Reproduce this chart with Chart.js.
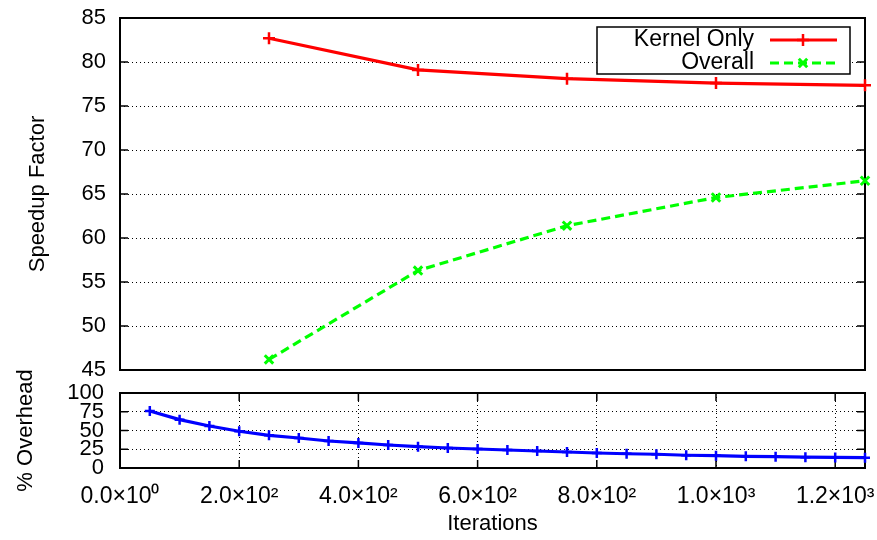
<!DOCTYPE html>
<html>
<head>
<meta charset="utf-8">
<script src="https://cdn.jsdelivr.net/npm/chart.js@4/dist/chart.umd.min.js"></script>
<style>
  html, body { margin: 0; padding: 0; background: #fff; }
  #top, #bottom { position: absolute; left: 0; }
  #top { top: 0; }
  #bottom { top: 355px; }
</style>
</head>
<body>
<canvas id="top" width="877" height="380"></canvas>
<canvas id="bottom" width="877" height="185"></canvas>
<script>
// dados
const iterTop = [250, 500, 750, 1000, 1250];
const kernelOnly = [82.7, 79.1, 78.1, 77.6, 77.35];
const overall = [46.2, 56.3, 61.4, 64.6, 66.5];

const iterBottom = [50, 100, 150, 200, 250, 300, 350, 400, 450, 500, 550, 600, 650,
  700, 750, 800, 850, 900, 950, 1000, 1050, 1100, 1150, 1200, 1250];
const overhead = [76, 64.5, 56, 49, 43.6, 40, 36, 33.4, 30.7, 28.5, 26.7, 25.3, 24,
  22.7, 21.3, 20, 19, 18.3, 17, 16.5, 15.6, 15.1, 14.4, 14.1, 13.8];

const speedupTicks = [45, 50, 55, 60, 65, 70, 75, 80, 85];
const overheadTicks = [0, 25, 50, 75, 100];
const xTickValues = [0, 200, 400, 600, 800, 1000, 1200];
const xTickLabels = ['0.0×10⁰', '2.0×10²', '4.0×10²', '6.0×10²', '8.0×10²', '1.0×10³', '1.2×10³'];

Chart.defaults.font.family = '"Liberation Sans", Arial, sans-serif';
Chart.defaults.color = '#000';

const toPoints = (xs, ys) => xs.map((x, i) => ({ x: x, y: ys[i] }));

// sem folga extra das etiquetas: a área do gráfico fica onde o padding diz
const semFolga = (axis) => {
  axis.paddingTop = 0; axis.paddingBottom = 0;
  axis.paddingLeft = 0; axis.paddingRight = 0;
};

// moldura preta com marcas de escala para dentro
function framePlugin(xTicks) {
  return {
    id: 'frame',
    beforeDatasetsDraw(chart) {
      const { ctx, chartArea: a, scales } = chart;
      ctx.save();
      ctx.strokeStyle = '#000';
      ctx.lineWidth = 1.5;
      ctx.beginPath();
      scales.y.ticks.forEach(t => {
        const y = scales.y.getPixelForValue(t.value);
        ctx.moveTo(a.left, y); ctx.lineTo(a.left + 8, y);
        ctx.moveTo(a.right, y); ctx.lineTo(a.right - 8, y);
      });
      if (xTicks) {
        scales.x.ticks.forEach(t => {
          const x = scales.x.getPixelForValue(t.value);
          ctx.moveTo(x, a.bottom); ctx.lineTo(x, a.bottom - 8);
          ctx.moveTo(x, a.top); ctx.lineTo(x, a.top + 8);
        });
      }
      ctx.stroke();
      ctx.lineWidth = 2;
      ctx.strokeRect(a.left, a.top, a.right - a.left, a.bottom - a.top);
      ctx.restore();
    }
  };
}

const legendPlugin = {
  id: 'caixaLegenda',
  afterDatasetsDraw(chart) {
    const ctx = chart.ctx;
    const bx = 597, by = 27, bw = 253, bh = 47;
    ctx.save();
    ctx.fillStyle = '#fff';
    ctx.fillRect(bx, by, bw, bh);
    ctx.strokeStyle = '#000';
    ctx.lineWidth = 1.5;
    ctx.strokeRect(bx, by, bw, bh);
    ctx.font = '23px "Liberation Sans", Arial, sans-serif';
    ctx.textAlign = 'right';
    ctx.textBaseline = 'middle';
    ctx.fillStyle = '#000';
    chart.data.datasets.forEach((ds, i) => {
      const y = by + 13 + i * 23;
      ctx.fillText(ds.label, 754, y);
      ctx.strokeStyle = ds.borderColor;
      ctx.lineWidth = ds.borderWidth;
      ctx.setLineDash(ds.borderDash || []);
      ctx.beginPath();
      ctx.moveTo(770, y); ctx.lineTo(837, y);
      ctx.stroke();
      ctx.setLineDash([]);
      ctx.lineWidth = ds.pointBorderWidth;
      const r = ds.pointRadius;
      ctx.beginPath();
      if (ds.pointStyle === 'cross') {
        ctx.moveTo(803 - r, y); ctx.lineTo(803 + r, y);
        ctx.moveTo(803, y - r); ctx.lineTo(803, y + r);
      } else {
        const d = r * 0.7;
        ctx.moveTo(803 - d, y - d); ctx.lineTo(803 + d, y + d);
        ctx.moveTo(803 - d, y + d); ctx.lineTo(803 + d, y - d);
      }
      ctx.stroke();
    });
    ctx.restore();
  }
};

new Chart(document.getElementById('top'), {
  type: 'line',
  data: {
    datasets: [{
      label: 'Kernel Only',
      data: toPoints(iterTop, kernelOnly),
      borderColor: '#ff0000',
      backgroundColor: '#ff0000',
      borderWidth: 3.2,
      pointStyle: 'cross',
      pointRadius: 6,
      pointBorderWidth: 2.5,
      clip: false
    }, {
      label: 'Overall',
      data: toPoints(iterTop, overall),
      borderColor: '#00ff00',
      backgroundColor: '#00ff00',
      borderWidth: 3.2,
      borderDash: [9, 5],
      pointStyle: 'crossRot',
      pointRadius: 6,
      pointBorderWidth: 3,
      clip: false
    }]
  },
  options: {
    responsive: false,
    animation: false,
    devicePixelRatio: 1,
    layout: { padding: { left: 0, right: 12, top: 18, bottom: 10 } },
    plugins: { legend: { display: false }, tooltip: { enabled: false } },
    elements: { line: { tension: 0 } },
    scales: {
      x: { type: 'linear', min: 0, max: 1250, display: false },
      y: {
        min: 45, max: 85,
        afterBuildTicks: axis => { axis.ticks = speedupTicks.map(v => ({ value: v })); },
        afterFit: axis => { axis.width = 120; semFolga(axis); },
        ticks: { font: { size: 22 }, padding: 14, autoSkip: false },
        grid: { color: '#000', lineWidth: 1, drawTicks: false },
        border: { display: false, dash: [1, 3] },
        title: { display: true, text: 'Speedup Factor', font: { size: 22 }, padding: { top: 25 } }
      }
    }
  },
  plugins: [framePlugin(false), legendPlugin]
});

new Chart(document.getElementById('bottom'), {
  type: 'line',
  data: {
    datasets: [{
      label: '% Overhead',
      data: toPoints(iterBottom, overhead),
      borderColor: '#0000ff',
      backgroundColor: '#0000ff',
      borderWidth: 3.2,
      pointStyle: 'cross',
      pointRadius: 5,
      pointBorderWidth: 2.5,
      clip: false
    }]
  },
  options: {
    responsive: false,
    animation: false,
    devicePixelRatio: 1,
    layout: { padding: { left: 0, right: 12, top: 38, bottom: 0 } },
    plugins: { legend: { display: false }, tooltip: { enabled: false } },
    elements: { line: { tension: 0 } },
    scales: {
      x: {
        type: 'linear', min: 0, max: 1250,
        afterBuildTicks: axis => { axis.ticks = xTickValues.map(v => ({ value: v })); },
        afterFit: axis => { axis.height = 72; semFolga(axis); },
        ticks: {
          font: { size: 23 }, padding: 15, autoSkip: false, maxRotation: 0,
          callback: (v) => xTickLabels[xTickValues.indexOf(v)]
        },
        grid: { color: '#000', lineWidth: 1, drawTicks: false },
        border: { display: false, dash: [1, 3] },
        title: { display: true, text: 'Iterations', font: { size: 22 }, padding: { top: 4, bottom: 3 } }
      },
      y: {
        min: 0, max: 100,
        afterBuildTicks: axis => { axis.ticks = overheadTicks.map(v => ({ value: v })); },
        afterFit: axis => { axis.width = 120; semFolga(axis); },
        ticks: { font: { size: 22 }, padding: 16, autoSkip: false },
        grid: { color: '#000', lineWidth: 1, drawTicks: false },
        border: { display: false, dash: [1, 3] },
        title: { display: true, text: '% Overhead', font: { size: 22 }, padding: { top: 13 } }
      }
    }
  },
  plugins: [framePlugin(true)]
});
</script>
</body>
</html>
